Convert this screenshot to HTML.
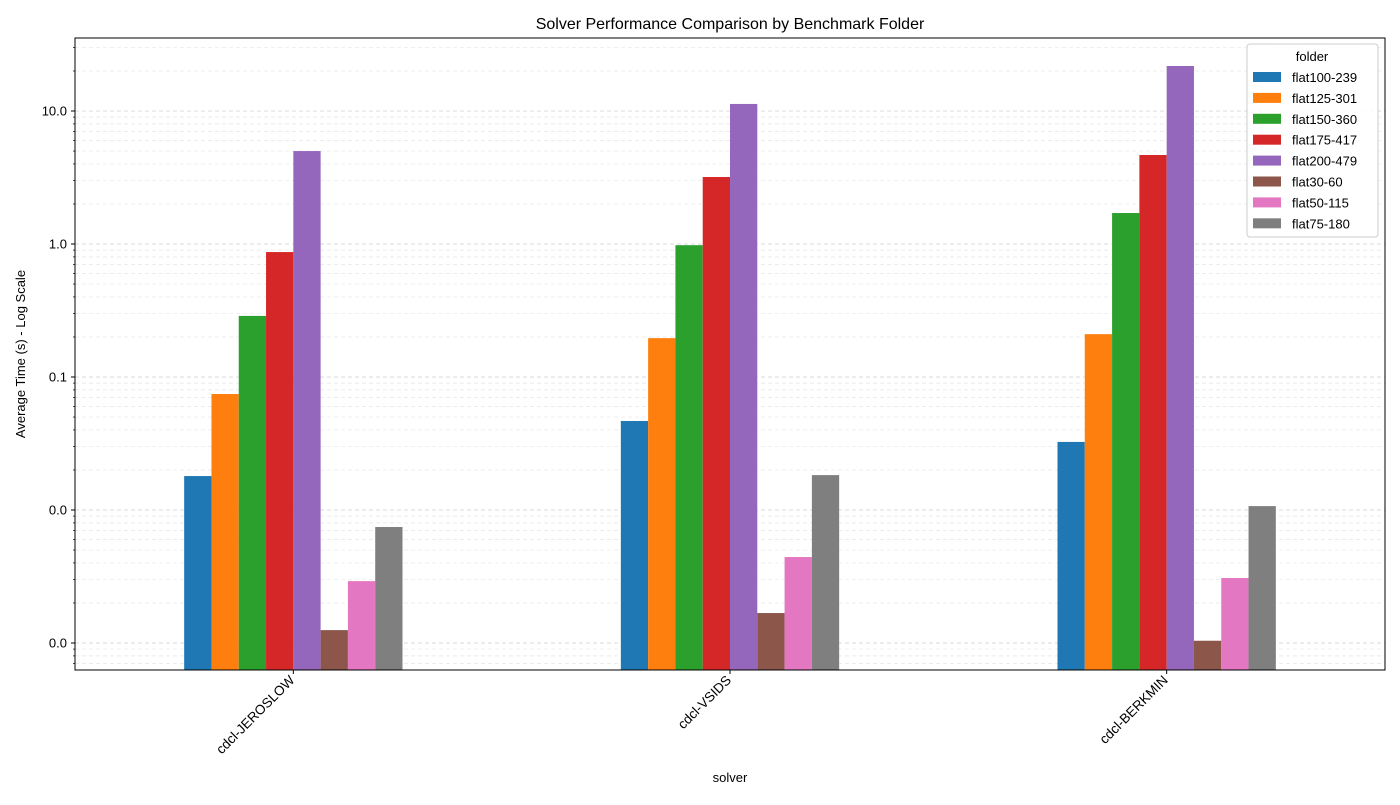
<!DOCTYPE html>
<html><head><meta charset="utf-8"><style>
body{margin:0;background:#fff;}
svg{font-family:"Liberation Sans","DejaVu Sans",sans-serif;}
</style></head><body>
<svg id="chart" width="1400" height="800" xmlns="http://www.w3.org/2000/svg"></svg>
<script>
const solvers = ["cdcl-JEROSLOW","cdcl-VSIDS","cdcl-BERKMIN"];
const folders = ["flat100-239","flat125-301","flat150-360","flat175-417","flat200-479","flat30-60","flat50-115","flat75-180"];
const colors = ["#1f77b4","#ff7f0e","#2ca02c","#d62728","#9467bd","#8c564b","#e377c2","#7f7f7f"];
const valsJeroslow = [0.018,0.0745,0.288,0.87,5.0,0.00125,0.00292,0.00745];
const valsVsids = [0.0467,0.196,0.98,3.19,11.3,0.00168,0.00443,0.0183];
const valsBerkmin = [0.0325,0.21,1.71,4.67,21.8,0.00104,0.00308,0.0107];
const series = [valsJeroslow,valsVsids,valsBerkmin];
const yTicks = [0.001,0.01,0.1,1,10];
const yTickLabels = ["0.0","0.0","0.1","1.0","10.0"];

const NS="http://www.w3.org/2000/svg";
const svg=document.getElementById('chart');
const L=75,R=1385,T=38,B=670;
const logMin=-3.203, logMax=1.549;
function y(v){return B-(Math.log10(v)-logMin)/(logMax-logMin)*(B-T);}
const gw=(R-L)/solvers.length;
function xc(i){return L+gw*(i+0.5);}
const bw=gw*0.5/folders.length;
function mk(tag,attrs,parent){const e=document.createElementNS(NS,tag);for(const k in attrs)e.setAttribute(k,attrs[k]);(parent||svg).appendChild(e);return e;}

const grid=mk('g',{});


for(let d=-4;d<=2;d++){for(let m=1;m<10;m++){const v=m*Math.pow(10,d);const yy=y(v);if(yy<T||yy>B)continue;
 mk('line',{x1:L,x2:R,y1:yy,y2:yy,stroke:m===1?'#d8d8d8':'#e6e6e6','stroke-dasharray':'4,3','stroke-width':m===1?0.9:0.7},grid);}}

solvers.forEach((s,i)=>{folders.forEach((f,j)=>{
 const v=series[i][j];const x=xc(i)-gw*0.25+j*bw;const top=y(v);
 const r=mk('rect',{x:x,y:top,width:bw,height:B-top,fill:colors[j]});
 
 
});});

const fr=mk('rect',{x:L,y:T,width:R-L,height:B-T,fill:'none',stroke:'#000','stroke-width':1});



yTicks.forEach((v,i)=>{const yy=y(v);
 mk('line',{x1:L-4,x2:L,y1:yy,y2:yy,stroke:'#000'});
 const t=mk('text',{x:L-8,y:yy+4.5,'text-anchor':'end','font-size':13});t.textContent=yTickLabels[i];
 
 
});
for(let d=-4;d<=2;d++){for(let m=2;m<10;m++){const yy=y(m*Math.pow(10,d));if(yy<T||yy>B)continue;mk('line',{x1:L-2,x2:L,y1:yy,y2:yy,stroke:'#000','stroke-width':0.7});}}

solvers.forEach((s,i)=>{const x=xc(i);
 mk('line',{x1:x,x2:x,y1:B,y2:B+4,stroke:'#000'});
 const ty=B+11;
 const t=mk('text',{x:x+2,y:ty,'text-anchor':'end','font-size':13.5,transform:`rotate(-45 ${x+2} ${ty})`});t.textContent=s;
 
 
});

const title=mk('text',{x:(L+R)/2,y:29,'text-anchor':'middle','font-size':16});title.textContent='Solver Performance Comparison by Benchmark Folder';


const xl=mk('text',{x:(L+R)/2,y:782,'text-anchor':'middle','font-size':13});xl.textContent='solver';


const yl=mk('text',{x:25,y:(T+B)/2,'text-anchor':'middle','font-size':13,transform:`rotate(-90 25 ${(T+B)/2})`});yl.textContent='Average Time (s) - Log Scale';



const lg=mk('g',{});


mk('rect',{x:1247,y:44,width:131,height:193,rx:3,fill:'#fff','fill-opacity':0.85,stroke:'#ccc'},lg);
const lt=mk('text',{x:1312,y:61,'text-anchor':'middle','font-size':13},lg);lt.textContent='folder';
folders.forEach((f,j)=>{const yy=77+j*20.9;
 const g=mk('g',{},lg);
 
 
 mk('rect',{x:1253,y:yy-5,width:28,height:10,fill:colors[j]},g);
 const t=mk('text',{x:1292,y:yy+5,'font-size':13},g);t.textContent=f;});
</script>
</body></html>
